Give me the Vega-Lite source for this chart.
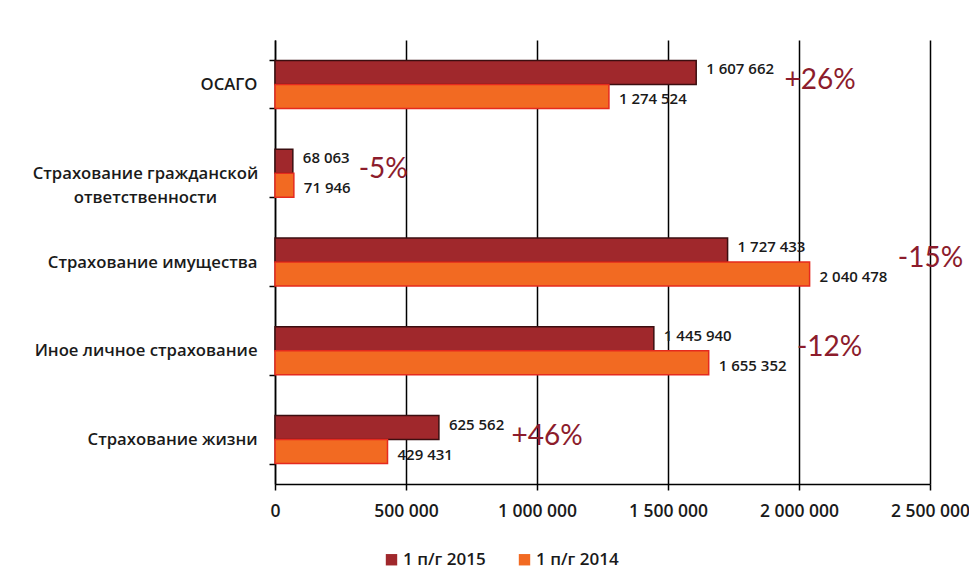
{
  "$schema": "https://vega.github.io/schema/vega-lite/v6.json",
  "width": 655,
  "height": 444,
  "autosize": "none",
  "padding": {"left": 275, "top": 40, "right": 39, "bottom": 95},
  "background": "white",
  "config": {
    "locale": {"number": {"decimal": ",", "thousands": " ", "grouping": [3], "currency": ["", ""]}},
    "font": "Open Sans",
    "view": {"stroke": null}
  },
  "data": {
    "values": [
      {"category": "ОСАГО", "period": "1 п/г 2015", "value": 1607662, "change": "+26%"},
      {"category": "ОСАГО", "period": "1 п/г 2014", "value": 1274524, "change": "+26%"},
      {"category": "Страхование гражданской ответственности", "period": "1 п/г 2015", "value": 68063, "change": "-5%"},
      {"category": "Страхование гражданской ответственности", "period": "1 п/г 2014", "value": 71946, "change": "-5%"},
      {"category": "Страхование имущества", "period": "1 п/г 2015", "value": 1727433, "change": "-15%"},
      {"category": "Страхование имущества", "period": "1 п/г 2014", "value": 2040478, "change": "-15%"},
      {"category": "Иное личное страхование", "period": "1 п/г 2015", "value": 1445940, "change": "-12%"},
      {"category": "Иное личное страхование", "period": "1 п/г 2014", "value": 1655352, "change": "-12%"},
      {"category": "Страхование жизни", "period": "1 п/г 2015", "value": 625562, "change": "+46%"},
      {"category": "Страхование жизни", "period": "1 п/г 2014", "value": 429431, "change": "+46%"}
    ]
  },
  "encoding": {
    "y": {
      "field": "category",
      "type": "nominal",
      "sort": ["ОСАГО", "Страхование гражданской ответственности", "Страхование имущества", "Иное личное страхование", "Страхование жизни"],
      "scale": {"paddingInner": 0.46, "paddingOuter": 0.23},
      "title": null,
      "axis": {
        "domainColor": "#000",
        "domainWidth": 1.5,
        "tickBand": "extent",
        "tickColor": "#000",
        "tickWidth": 1.5,
        "tickSize": 6,
        "labelFontSize": 16.7,
        "labelFontWeight": 600,
        "labelColor": "#1a1a1a",
        "labelLineHeight": 24,
        "labelPadding": {"condition": {"test": "datum.value == 'Страхование гражданской ответственности'", "value": 124}, "value": 12},
        "labelAlign": {"condition": {"test": "datum.value == 'Страхование гражданской ответственности'", "value": "center"}, "value": "right"},
        "labelLimit": 300,
        "labelExpr": "datum.value == 'Страхование гражданской ответственности' ? ['Страхование гражданской', 'ответственности'] : datum.label"
      }
    },
    "x": {
      "type": "quantitative",
      "scale": {"domain": [0, 2500000], "nice": false},
      "title": null,
      "axis": {
        "values": [0, 500000, 1000000, 1500000, 2000000, 2500000],
        "format": ",d",
        "grid": true,
        "gridColor": "#000",
        "gridWidth": 1.5,
        "gridOpacity": 1,
        "domainColor": "#000",
        "domainWidth": 1.5,
        "tickColor": "#000",
        "tickWidth": 1.5,
        "tickSize": 6,
        "labelFlush": false,
        "labelOverlap": false,
        "labelFontSize": 17.5,
        "labelFontWeight": 600,
        "labelColor": "#1a1a1a",
        "labelPadding": 12
      }
    }
  },
  "layer": [
    {
      "mark": {"type": "bar", "strokeWidth": 1.5},
      "encoding": {
        "x": {"field": "value", "type": "quantitative"},
        "yOffset": {"field": "period", "sort": ["1 п/г 2015", "1 п/г 2014"]},
        "color": {
          "field": "period",
          "type": "nominal",
          "sort": ["1 п/г 2015", "1 п/г 2014"],
          "scale": {"domain": ["1 п/г 2015", "1 п/г 2014"], "range": ["#a0282c", "#f26a22"]},
          "title": null,
          "legend": {
            "orient": "none",
            "legendX": 108,
            "legendY": 511,
            "direction": "horizontal",
            "symbolType": "square",
            "symbolSize": 130,
            "symbolStrokeWidth": 0,
            "labelFontSize": 17,
            "labelFontWeight": 600,
            "labelColor": "#1a1a1a",
            "columnPadding": 30,
            "labelOffset": 3
          }
        },
        "stroke": {
          "field": "period",
          "type": "nominal",
          "scale": {"domain": ["1 п/г 2015", "1 п/г 2014"], "range": ["#3b0e10", "#e52a1e"]},
          "legend": null
        }
      }
    },
    {
      "mark": {"type": "text", "align": "left", "baseline": "middle", "dx": 10, "fontSize": 15, "fontWeight": 600, "color": "#1a1a1a", "dy": {"expr": "datum.period == '1 п/г 2015' ? -3 : 3"}},
      "encoding": {
        "x": {"field": "value", "type": "quantitative"},
        "yOffset": {"field": "period", "sort": ["1 п/г 2015", "1 п/г 2014"]},
        "text": {"field": "value", "type": "quantitative", "format": ",d"}
      }
    },
    {
      "transform": [
        {"aggregate": [{"op": "max", "field": "value", "as": "maxv"}], "groupby": ["category", "change"]}
      ],
      "mark": {"type": "text", "align": "left", "baseline": "middle", "font": "Lato", "fontSize": 28, "color": "#8c1c2c", "dy": -3, "dx": {"expr": "18 + 7.8 * length(format(datum.maxv, ',d'))"}},
      "encoding": {
        "x": {"field": "maxv", "type": "quantitative"},
        "text": {"field": "change"}
      }
    }
  ]
}
